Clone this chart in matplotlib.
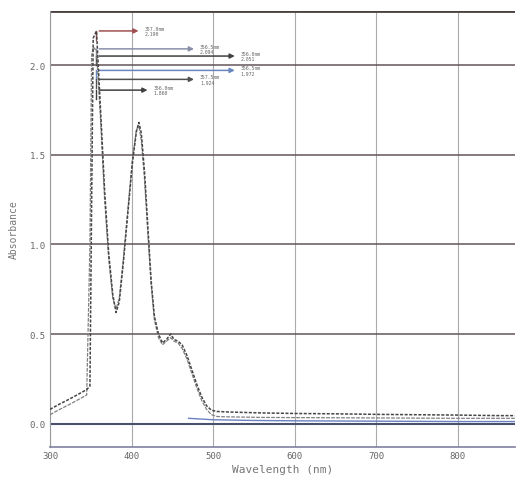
import numpy as np
import matplotlib.pyplot as plt

# spectra (wavelength in nm, absorbance)
wl = [300, 312, 325, 337, 345, 349, 351, 353, 357, 362, 367, 372, 377, 381,
      385, 390, 395, 401, 406, 409, 412, 416, 420, 424, 428, 433, 438, 443,
      448, 452, 457, 462, 468, 474, 480, 486, 492, 498, 505, 520, 560, 600,
      650, 700, 750, 800, 850, 870]
abs_a = [0.08, 0.11, 0.14, 0.17, 0.19, 0.21, 1.20, 2.15, 2.19, 1.75, 1.30,
         0.95, 0.72, 0.62, 0.68, 0.90, 1.15, 1.45, 1.63, 1.68, 1.62, 1.40,
         1.10, 0.80, 0.60, 0.50, 0.45, 0.47, 0.50, 0.47, 0.46, 0.44, 0.38,
         0.30, 0.22, 0.15, 0.10, 0.075, 0.068, 0.065, 0.060, 0.057, 0.055,
         0.052, 0.050, 0.048, 0.045, 0.045]
abs_b = [0.05, 0.08, 0.11, 0.14, 0.16, 1.00, 2.05, 2.10, 2.08, 1.70, 1.25,
         0.92, 0.70, 0.64, 0.70, 0.92, 1.17, 1.47, 1.64, 1.66, 1.58, 1.36,
         1.06, 0.78, 0.58, 0.48, 0.44, 0.46, 0.48, 0.46, 0.45, 0.42, 0.36,
         0.28, 0.20, 0.13, 0.08, 0.050, 0.040, 0.038, 0.035, 0.034, 0.033,
         0.032, 0.031, 0.030, 0.030, 0.030]
tail_wl = [470, 500, 550, 600, 650, 700, 750, 800, 850, 870]
tail_c = [0.030, 0.022, 0.018, 0.016, 0.015, 0.014, 0.013, 0.012, 0.012, 0.012]

# peak labels (arrow levels)
pk_y = [2.19, 2.09, 2.05, 1.97, 1.92, 1.86]
pk_end = [412, 480, 530, 530, 480, 423]
pk_txt = ["357.0nm\n2.190", "356.5nm\n2.094", "356.0nm\n2.051",
          "356.5nm\n1.972", "357.5nm\n1.924", "356.0nm\n1.860"]
pk_col = ["#a05050", "#8a8fa8", "#404040", "#6a86c0", "#505050", "#404040"]

fig = plt.figure(figsize=(5.24, 4.81), dpi=100)
ax = fig.add_axes([0.0954, 0.0686, 0.887, 0.906])
mono = "DejaVu Sans Mono"

ax.set_xlim(300, 870)
ax.set_ylim(-0.13, 2.3)

for v in [300, 400, 500, 600, 700, 800]:
    ax.axvline(v, color="#aaaaaa", lw=0.8, zorder=1)
for v in [0.5, 1.0, 1.5, 2.0]:
    ax.axhline(v, color="#5a4c50", lw=1.3, alpha=0.8, zorder=1)
ax.axhline(0.0, color="#4a5070", lw=1.5, zorder=1)
ax.axhline(2.3, color="#4a4040", lw=2.0, zorder=1)

ax.plot(wl, abs_b, color="#808080", lw=0.9, ls=(0, (3, 1)), zorder=3)
ax.plot(wl, abs_a, color="#454545", lw=1.1, ls=(0, (2, 1)), zorder=4)
ax.plot(tail_wl, tail_c, color="#6a80c0", lw=1.0, zorder=3)

for y, x2, t, c in zip(pk_y, pk_end, pk_txt, pk_col):
    ax.annotate("", xy=(x2, y), xytext=(357, y),
                arrowprops=dict(arrowstyle="-|>", color=c, lw=1.1,
                                mutation_scale=7))
    ax.plot([357, 357], [y, y - 0.05], color=c, lw=1.0)
    ax.text(x2 + 4, y, t, fontsize=3.5, family=mono, color="#666666",
            va="center", ha="left", linespacing=1.1)

for s in ["top", "right"]:
    ax.spines[s].set_visible(False)
ax.spines["left"].set_color("#999999")
ax.spines["bottom"].set_color("#8080a0")
ax.spines["bottom"].set_linewidth(1.2)

ax.set_xticks([300, 400, 500, 600, 700, 800])
ax.set_yticks([0.0, 0.5, 1.0, 1.5, 2.0])
ax.set_yticklabels(["0.0", "0.5", "1.0", "1.5", "2.0"])
ax.tick_params(length=0, labelsize=6.5, labelcolor="#666666", pad=3)
for lab in ax.get_xticklabels() + ax.get_yticklabels():
    lab.set_family(mono)

ax.set_xlabel("Wavelength (nm)", family=mono, fontsize=8, color="#777777",
              labelpad=3)
ax.set_ylabel("Absorbance", family=mono, fontsize=7, color="#777777",
              labelpad=8)

fig.savefig("out.png", dpi=100)
